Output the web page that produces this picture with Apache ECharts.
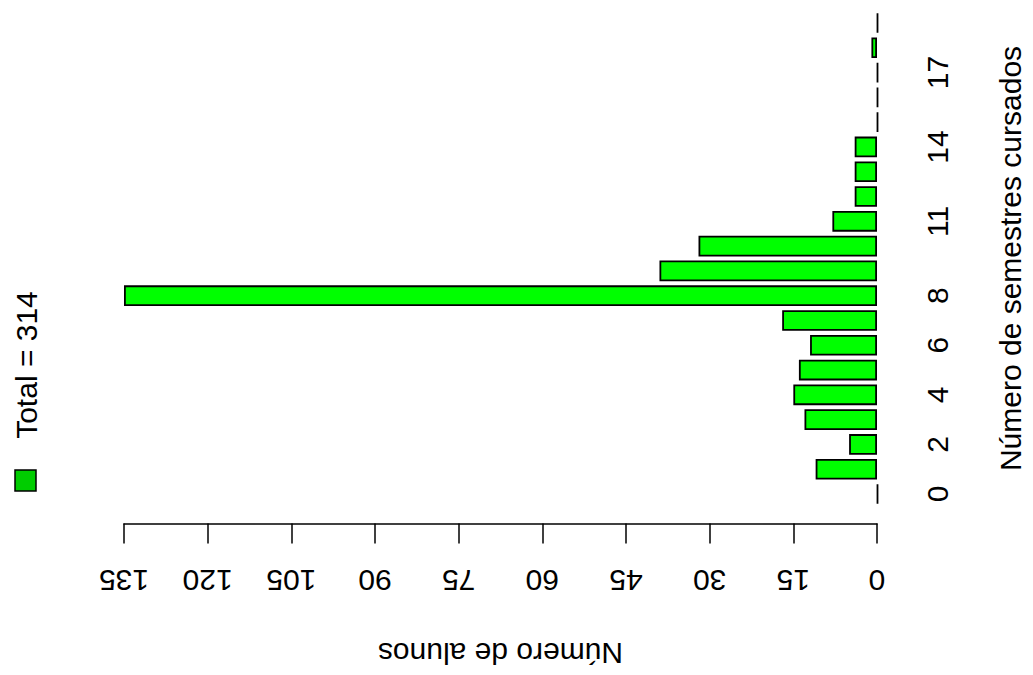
<!DOCTYPE html>
<html>
<head>
<meta charset="utf-8">
<title>Semestres cursados</title>
<script src="https://cdn.jsdelivr.net/npm/echarts@6/dist/echarts.min.js"></script>
<style>
    html, body { margin: 0; padding: 0; background: #fff; }
    #main { width: 1033px; height: 675px; }
</style>
</head>
<body>
<div id="main"></div>
<script>
// semestres cursados (eixo de categorias)
const semestres = ['0', '1', '2', '3', '4', '5', '6', '7', '8', '9',
    '10', '11', '12', '13', '14', '15', '16', '17', '18', '19']
// numero de alunos por semestre
const alunos = [0, 11, 5, 13, 15, 14, 12, 17, 135, 39, 32, 8, 4, 4, 4, 0, 0, 0, 1, 0]
// rotulos que aparecem no eixo
const rotulosVisiveis = ['0', '2', '4', '6', '8', '11', '14', '17']
const maxAlunos = 135
const passo = 15

let total = 0
for (let i = 0; i < alunos.length; i++) {
    total += alunos[i]
}

const fonte = 'Liberation Sans, Arial, Helvetica, sans-serif'

let myChart = echarts.init(document.getElementById('main'), null, { renderer: 'svg' })

myChart.setOption({
    backgroundColor: '#ffffff',
    animation: false,
    grid: {
        left: 124,
        right: 151,
        top: 10.6,
        bottom: 168.6
    },
    xAxis: {
        type: 'value',
        inverse: true,
        min: 0,
        max: maxAlunos,
        interval: passo,
        position: 'bottom',
        offset: 17,
        name: 'Número de alunos',
        nameLocation: 'middle',
        nameRotate: 180,
        nameGap: 115,
        nameTextStyle: { fontSize: 30, color: '#000', fontFamily: fonte },
        axisLine: { show: true, lineStyle: { color: '#000', width: 1.5 } },
        axisTick: { show: true, length: 20, lineStyle: { color: '#000', width: 1.5 } },
        axisLabel: { rotate: 180, margin: 42, fontSize: 30, color: '#000', fontFamily: fonte },
        splitLine: { show: false }
    },
    yAxis: {
        type: 'category',
        position: 'right',
        data: semestres,
        name: 'Número de semestres cursados',
        nameLocation: 'middle',
        nameRotate: 90,
        nameGap: 118,
        nameTextStyle: { fontSize: 30, color: '#000', fontFamily: fonte },
        axisLine: { show: false },
        axisTick: { show: false },
        axisLabel: {
            rotate: 90,
            margin: 45,
            fontSize: 30,
            color: '#000',
            fontFamily: fonte,
            interval: function (index, value) {
                return rotulosVisiveis.indexOf(value) >= 0
            }
        },
        splitLine: { show: false }
    },
    series: [
        {
            type: 'bar',
            data: alunos,
            barWidth: '83.3%',
            barMinHeight: 1,
            clip: false,
            itemStyle: {
                color: '#00ff00',
                borderColor: '#000',
                borderWidth: 1.8
            }
        }
    ],
    // legenda do R, desenhada a mao
    graphic: [
        {
            type: 'rect',
            shape: { x: 15, y: 470, width: 21, height: 21 },
            style: { fill: '#00cd00', stroke: '#000', lineWidth: 1.5 }
        },
        {
            type: 'text',
            x: 26,
            y: 365,
            rotation: Math.PI / 2,
            style: {
                text: 'Total = ' + total,
                fontSize: 30,
                fontFamily: fonte,
                fill: '#000',
                textAlign: 'center',
                textVerticalAlign: 'middle'
            }
        }
    ]
})
</script>
</body>
</html>
